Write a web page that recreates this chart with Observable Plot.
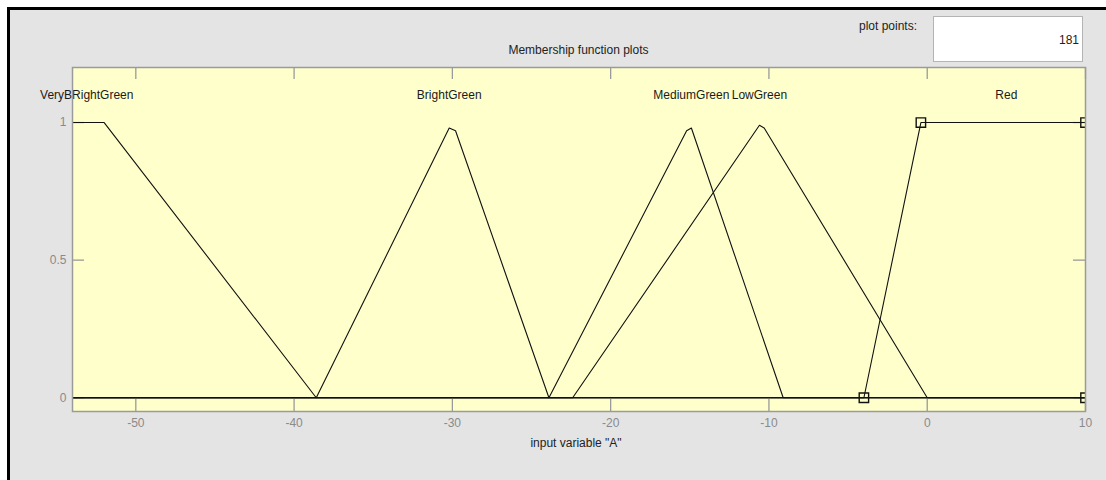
<!DOCTYPE html>
<html>
<head>
<meta charset="utf-8">
<script src="https://cdn.jsdelivr.net/npm/d3@7"></script>
<script src="https://cdn.jsdelivr.net/npm/@observablehq/plot@0.6"></script>
<style>
  html, body { margin: 0; padding: 0; background: #fff; }
  #stage { position: relative; width: 1106px; height: 480px; overflow: hidden; font-family: "Liberation Sans", Arial, sans-serif; }
  #panel { position: absolute; left: 7px; top: 7px; right: 0; bottom: 0; background: #e4e4e4;
           border-top: 3px solid #000; border-left: 3px solid #000; }
  #chart { position: absolute; left: 0; top: 0; }
  .lbl { position: absolute; font-size: 12px; color: #222; white-space: nowrap; line-height: 14px; }
  #title { left: 0; width: 1157px; text-align: center; top: 43px; }
  #ppLabel { right: 189px; top: 19px; }
  #ppBox { position: absolute; left: 933px; top: 16px; width: 148px; height: 44px; background: #fff;
           border: 1px solid #b4b4b4; }
  #ppValue { right: 27px; top: 33px; }
  #xlabel { left: 0; width: 1152px; text-align: center; top: 436px; }
</style>
</head>
<body>
<div id="stage">
  <div id="panel"></div>
  <div id="chart"></div>
  <div class="lbl" id="title">Membership function plots</div>
  <div class="lbl" id="ppLabel">plot points:</div>
  <div id="ppBox"></div>
  <div class="lbl" id="ppValue">181</div>
  <div class="lbl" id="xlabel">input variable "A"</div>
</div>
<script>
// Membership functions of input variable "A" (range -54 .. 10)
const mfNames = ["VeryBRightGreen", "BrightGreen", "MediumGreen", "LowGreen", "Red"];
// where each name is written along the x axis
const mfNameAt = [-53.1, -30.2, -14.9, -10.6, 5];
const mfNameLevel = 1.1;

// polyline vertices of each curve (x, membership degree)
const mfX = [
  [-54, -52, -38.6, 10],
  [-54, -38.6, -30.2, -29.8, -23.9, 10],
  [-54, -23.9, -15.2, -14.9, -9.1, 10],
  [-54, -22.4, -10.6, -10.3, 0, 10],
  [-54, -4, -0.4, 10]
];
const mfY = [
  [1, 1, 0, 0],
  [0, 0, 0.98, 0.97, 0, 0],
  [0, 0, 0.97, 0.98, 0, 0],
  [0, 0, 0.99, 0.98, 0, 0],
  [0, 0, 1, 1]
];

// parameter handles of the selected function (Red, trapmf)
const redParamX = [-4, -0.4, 10, 10];
const redParamY = [0, 1, 1, 0];

const xTicks = [-50, -40, -30, -20, -10, 0, 10];
const yTicks = [0, 0.5, 1];

const rows = mfNames.flatMap((name, i) =>
  mfX[i].map((x, j) => ({name, x, y: mfY[i][j]})));
const nameRows = mfNames.map((name, i) => ({name, x: mfNameAt[i], y: mfNameLevel}));
const handles = redParamX.map((x, i) => ({x, y: redParamY[i]}));

const W = 1106, H = 480;
const mL = 72, mR = 21, mT = 67, mB = 69;
const innerW = W - mL - mR, innerH = H - mT - mB;
const tickLen = 12;
const axisGrey = "#9a9a9a";
const tickText = "#8a8a8a";
const plain = (d) => String(d);

const chart = Plot.plot({
  width: W,
  height: H,
  marginLeft: mL,
  marginRight: mR,
  marginTop: mT,
  marginBottom: mB,
  style: {background: "transparent", fontFamily: "'Liberation Sans', Arial, sans-serif", fontSize: "12px"},
  x: {domain: [-54, 10], label: null},
  y: {domain: [-0.05, 1.2], label: null},
  marks: [
    Plot.frame({fill: "#ffffcc", stroke: null}),
    // inward ticks on all four sides
    Plot.gridX(xTicks, {stroke: axisGrey, strokeOpacity: 1, strokeWidth: 1.3, insetTop: innerH - tickLen}),
    Plot.gridX(xTicks, {stroke: axisGrey, strokeOpacity: 1, strokeWidth: 1.3, insetBottom: innerH - tickLen}),
    Plot.gridY(yTicks, {stroke: axisGrey, strokeOpacity: 1, strokeWidth: 1.3, insetRight: innerW - tickLen}),
    Plot.gridY(yTicks, {stroke: axisGrey, strokeOpacity: 1, strokeWidth: 1.3, insetLeft: innerW - tickLen}),
    Plot.axisX(xTicks, {anchor: "bottom", tickSize: 0, tickPadding: 7, color: tickText, label: null, tickFormat: plain}),
    Plot.axisY(yTicks, {anchor: "left", tickSize: 0, tickPadding: 6, color: tickText, label: null, tickFormat: plain}),
    Plot.line(rows, {x: "x", y: "y", z: "name", stroke: "#111", strokeWidth: 1.1, clip: true}),
    Plot.dot(handles, {x: "x", y: "y", symbol: "square", r: 5.3, stroke: "#111", strokeWidth: 1.4, fill: "none", clip: true}),
    Plot.text(nameRows, {x: "x", y: "y", text: "name", fill: "#1a1a1a", fontSize: 12}),
    Plot.frame({stroke: axisGrey, strokeWidth: 1.5})
  ]
});
document.getElementById("chart").append(chart);
</script>
</body>
</html>
